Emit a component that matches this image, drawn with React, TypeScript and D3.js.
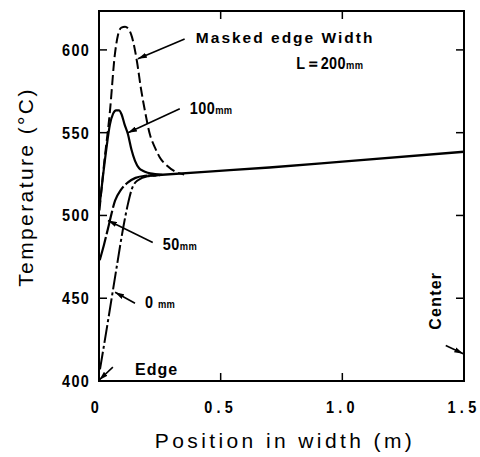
import React from "react";
import * as d3 from "d3";

// Temperature profiles across the strip width for several masked edge widths
const baseLine: [number, number][] = [
  [0.2, 524], [0.45, 526.5], [0.7, 529], [1.0, 532.5], [1.5, 538.5],
];
const mask200: [number, number][] = [
  [0.002, 503], [0.02, 530], [0.045, 563], [0.065, 597], [0.078, 609], [0.092, 613.5],
  [0.107, 614], [0.122, 612.5], [0.135, 608], [0.156, 593], [0.172, 577], [0.189, 563],
  [0.209, 549], [0.23, 541], [0.25, 535], [0.28, 530], [0.32, 526], [0.35, 524.8],
];
const mask100: [number, number][] = [
  [0.003, 507], [0.015, 522], [0.03, 540], [0.045, 555], [0.058, 561.5], [0.07, 563.5],
  [0.082, 563.5], [0.093, 561], [0.105, 555], [0.119, 549], [0.133, 540], [0.148, 533],
  [0.165, 528.5], [0.18, 527], [0.2, 525.8], [0.23, 525], [0.26, 524.6],
];
const mask50: [number, number][] = [
  [0.003, 473], [0.02, 482], [0.04, 494], [0.066, 509], [0.09, 515.5], [0.119, 520],
  [0.15, 522.7], [0.189, 524], [0.24, 524.4],
];
const mask0: [number, number][] = [
  [0.004, 407], [0.03, 430], [0.074, 470], [0.1, 493], [0.119, 507], [0.135, 516],
  [0.16, 521.3], [0.2, 523.7], [0.25, 524.3],
];

const xTicks = [0, 0.5, 1.0, 1.5];
const xTickLabels = ["0", "0.5", "1.0", "1.5"];
const yTicks = [400, 450, 500, 550, 600];

const W = 480;
const H = 457;

export default function App() {
  const x = d3.scaleLinear().domain([0, 1.5]).range([99, 464]);
  const y = d3.scaleLinear().domain([400, 623.5]).range([381, 11]);
  const line = d3
    .line<[number, number]>()
    .x((d) => x(d[0]))
    .y((d) => y(d[1]))
    .curve(d3.curveMonotoneX);

  const x0 = x(0), x1 = x(1.5), y0 = y(400), y1 = y(623.5);
  const tickLen = 8;
  const labelFont = "'Liberation Sans', Arial, sans-serif";

  const arrow = (from: [number, number], to: [number, number], key: string) => (
    <line
      key={key}
      x1={x(from[0])}
      y1={y(from[1])}
      x2={x(to[0])}
      y2={y(to[1])}
      stroke="#000"
      strokeWidth={1.6}
      markerEnd="url(#head)"
    />
  );

  // condensed bold numerals: horizontally squeezed around the anchor point
  const narrow = (
    key: string,
    px: number,
    py: number,
    anchor: "start" | "middle" | "end",
    size: number,
    spacing: number,
    content: React.ReactNode
  ) => (
    <text
      key={key}
      transform={`translate(${px},${py}) scale(0.85,1)`}
      textAnchor={anchor}
      fontWeight="bold"
      fontSize={size}
      letterSpacing={spacing}
    >
      {content}
    </text>
  );

  return (
    <svg
      width={W}
      height={H}
      style={{ position: "absolute", left: 0, top: 0, background: "#fff" }}
      fontFamily={labelFont}
    >
      <defs>
        <marker
          id="head"
          viewBox="0 0 10 6"
          refX={10}
          refY={3}
          markerWidth={9}
          markerHeight={5.5}
          markerUnits="userSpaceOnUse"
          orient="auto"
        >
          <path d="M0,0 L10,3 L0,6 Z" fill="#000" />
        </marker>
      </defs>

      {/* frame */}
      <rect x={x0} y={y1} width={x1 - x0} height={y0 - y1} fill="none" stroke="#000" strokeWidth={2} />

      {/* inward ticks */}
      {yTicks.slice(1).map((t) => (
        <g key={"yt" + t}>
          <line x1={x0} x2={x0 + tickLen} y1={y(t)} y2={y(t)} stroke="#000" strokeWidth={1.5} />
          <line x1={x1} x2={x1 - tickLen} y1={y(t)} y2={y(t)} stroke="#000" strokeWidth={1.5} />
        </g>
      ))}
      {xTicks.slice(1, 3).map((t) => (
        <g key={"xt" + t}>
          <line x1={x(t)} x2={x(t)} y1={y0} y2={y0 - tickLen} stroke="#000" strokeWidth={1.5} />
          <line x1={x(t)} x2={x(t)} y1={y1} y2={y1 + tickLen} stroke="#000" strokeWidth={1.5} />
        </g>
      ))}

      {/* tick labels */}
      {yTicks.map((t) => narrow("yl" + t, 90, y(t) + 6, "end", 17, 1.5, String(t)))}
      {xTicks.map((t, i) =>
        narrow("xl" + t, x(t) + (i === 0 ? -2 : 0), 413, "middle", 17, 5, xTickLabels[i])
      )}

      {/* axis titles */}
      <text x={285} y={448} textAnchor="middle" fontSize={21} letterSpacing={3.4}>
        Position in width (m)
      </text>
      <text
        transform={`translate(33,187) rotate(-90)`}
        textAnchor="middle"
        fontSize={21}
        letterSpacing={2.4}
      >
        Temperature (°C)
      </text>

      {/* curves */}
      <path d={line(baseLine) ?? ""} fill="none" stroke="#000" strokeWidth={2.4} />
      <path d={line(mask200) ?? ""} fill="none" stroke="#000" strokeWidth={2} strokeDasharray="10,4" />
      <path d={line(mask100) ?? ""} fill="none" stroke="#000" strokeWidth={2.2} />
      <path d={line(mask50) ?? ""} fill="none" stroke="#000" strokeWidth={2.2} strokeDasharray="24,3" />
      <path d={line(mask0) ?? ""} fill="none" stroke="#000" strokeWidth={2} strokeDasharray="18,3,3,3" />

      {/* annotations */}
      {arrow([0.352, 606.6], [0.16, 594.6], "a200")}
      <text x={x(0.398)} y={y(604)} fontSize={15.5} fontWeight="bold" letterSpacing={2}>
        Masked edge Width
      </text>
      {narrow("lbl200", x(0.811), y(588.5), "start", 17, 0.5, (
        <>
          L＝200<tspan fontSize={11}>mm</tspan>
        </>
      ))}

      {arrow([0.332, 564.5], [0.119, 550], "a100")}
      {narrow("lbl100", x(0.373), y(561.4), "start", 17, 0.5, (
        <>
          100<tspan fontSize={11}>mm</tspan>
        </>
      ))}

      {arrow([0.221, 483.7], [0.037, 497], "a50")}
      {narrow("lbl50", x(0.262), y(478.9), "start", 17, 0.5, (
        <>
          50<tspan fontSize={11}>mm</tspan>
        </>
      ))}

      {arrow([0.148, 447], [0.066, 453.6], "a0")}
      {narrow("lbl0", x(0.189), y(444), "start", 17, 0.5, (
        <>
          0 <tspan fontSize={11}>mm</tspan>
        </>
      ))}

      {arrow([0.057, 408.4], [0.001, 400.6], "aEdge")}
      <text x={x(0.148)} y={y(403.6)} fontSize={16} fontWeight="bold" letterSpacing={1}>
        Edge
      </text>

      {arrow([1.425, 421.5], [1.497, 416.5], "aCenter")}
      <text
        transform={`translate(${x(1.405)},${y(431)}) rotate(-90)`}
        fontSize={16}
        fontWeight="bold"
        letterSpacing={1.2}
      >
        Center
      </text>
    </svg>
  );
}
